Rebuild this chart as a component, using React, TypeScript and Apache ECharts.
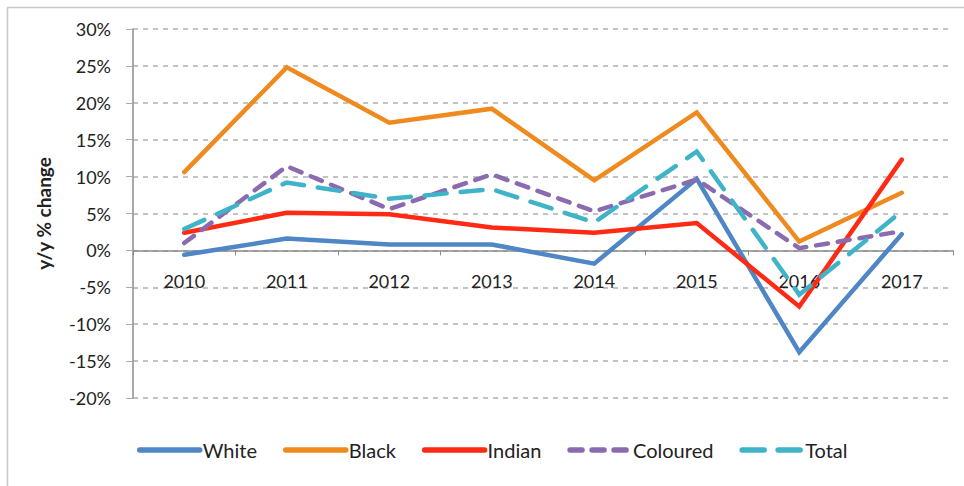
import React, { useEffect, useRef } from "react";
import * as echarts from "echarts";

const years = ["2010", "2011", "2012", "2013", "2014", "2015", "2016", "2017"];
const white = [-0.6, 1.6, 0.8, 0.8, -1.8, 9.7, -13.8, 2.2];
const black = [10.6, 24.8, 17.3, 19.2, 9.5, 18.7, 1.2, 7.8];
const indian = [2.4, 5.1, 4.9, 3.1, 2.4, 3.7, -7.6, 12.3];
const coloured = [1.0, 11.4, 5.6, 10.3, 5.3, 9.6, 0.3, 2.6];
const total = [2.9, 9.2, 7.0, 8.3, 3.8, 13.4, -6.0, 5.3];

const FONT = "Lato, 'Open Sans', sans-serif";

export default function App() {
  const ref = useRef<HTMLDivElement>(null);
  useEffect(() => {
    if (!ref.current) return;
    const chart = echarts.init(ref.current, null, { renderer: "svg" });
    const mk = (name: string, data: number[], color: string, type: any) => ({
      name,
      type: "line",
      data,
      symbol: "none",
      lineStyle: { color, width: 4.5, type, cap: "round", join: "miter" },
      itemStyle: { color },
    });
    chart.setOption({
      animation: false,
      backgroundColor: "#ffffff",
      textStyle: { fontFamily: FONT },
      graphic: [
        {
          type: "rect",
          shape: { x: 7.5, y: 7.5, width: 970, height: 490 },
          style: { fill: "none", stroke: "#c8c8c8", lineWidth: 1.5 },
          silent: true,
        },
      ],
      grid: { left: 133, right: 11, top: 29, bottom: 88, containLabel: false },
      legend: {
        left: 137,
        top: 440,
        padding: 0,
        itemWidth: 60,
        itemHeight: 14,
        itemGap: 26,
        itemStyle: { opacity: 0 },
        lineStyle: { width: 5.5 },
        textStyle: { fontFamily: FONT, fontSize: 20, color: "#222", padding: [0, 0, 0, -2] },
        data: ["White", "Black", "Indian", "Coloured", "Total"],
      },
      xAxis: {
        type: "category",
        data: years,
        boundaryGap: true,
        offset: -147.6,
        axisLine: { onZero: false, lineStyle: { color: "#8c8c8c", width: 1.5 } },
        axisTick: { show: true, length: 5, inside: false, lineStyle: { color: "#8c8c8c" } },
        axisLabel: { fontFamily: FONT, fontSize: 18, color: "#222", margin: 22 },
        splitLine: { show: false },
      },
      yAxis: {
        type: "value",
        min: -20,
        max: 30,
        interval: 5,
        name: "y/y % change",
        nameLocation: "middle",
        nameRotate: 90,
        nameGap: 80,
        nameTextStyle: { fontFamily: FONT, fontSize: 19, fontWeight: "bold", color: "#222" },
        axisLine: { show: true, lineStyle: { color: "#8c8c8c", width: 1.5 } },
        axisTick: { show: true, length: 7, lineStyle: { color: "#aaaaaa" } },
        axisLabel: {
          fontFamily: FONT,
          fontSize: 18,
          color: "#222",
          margin: 22,
          formatter: (v: number) => `${v}%`,
        },
        splitLine: {
          show: true,
          lineStyle: { color: "#b0b0b0", width: 1.5, type: [5, 5] },
        },
      },
      series: [
        mk("White", white, "#4f86c6", "solid"),
        mk("Black", black, "#ef8a1e", "solid"),
        mk("Indian", indian, "#ff2a14", "solid"),
        mk("Coloured", coloured, "#8a6bb0", [12, 10]),
        mk("Total", total, "#3fb3c8", [22, 14]),
      ],
    });
    return () => chart.dispose();
  }, []);
  return (
    <div
      ref={ref}
      style={{ position: "fixed", left: 0, top: 0, width: 964, height: 486 }}
    />
  );
}
